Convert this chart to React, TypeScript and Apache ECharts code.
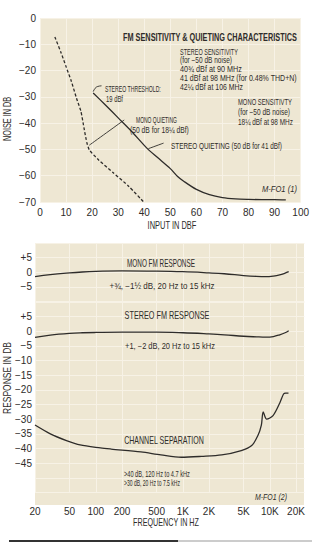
import React, { useEffect, useRef } from "react";
import * as echarts from "echarts";

// ---- Top chart: FM sensitivity & quieting (input dBf -> noise dB)
const monoQuietingInput = [5.7, 8, 10, 12, 14, 15.7, 17, 18, 19, 22.5, 28, 34, 39.6];
const monoQuietingNoise = [-7.2, -13, -18.5, -24, -30.5, -35.5, -42.5, -47.5, -50.3, -54, -58.8, -64, -69.8];
const stereoQuietingInput = [20.4, 25, 30, 35, 41, 45, 50, 52.8, 55, 60, 65, 70, 75, 80, 85, 90, 94.3];
const stereoQuietingNoise = [-28.5, -33, -38, -43, -49.5, -53, -57.3, -60.3, -62, -65.2, -67.2, -68.3, -68.8, -69, -69.1, -69.1, -69.2];
const thresholdLeader = [[23.6, -25.8], [21.6, -26.3], [20.4, -28.0]];
const monoQuietingLeader = [[32.3, -38.8], [18.9, -48.4]];
const stereoQuietingLeader = [[47.4, -47.6], [41.6, -49.7]];

// ---- Bottom chart: frequency responses & separation (Hz -> dB)
const responseFreq = [20, 30, 50, 70, 100, 200, 500, 1000, 2000, 3000, 5000, 7000, 9000, 11000, 13000, 15000, 16500];
const monoResponse = [-1.5, -0.8, -0.2, 0.1, 0.3, 0.5, 0.4, 0.2, -0.2, -0.5, -1.1, -1.4, -1.5, -1.3, -0.9, -0.3, 0.2];
const stereoResponse = [-2.1, -1.3, -0.7, -0.5, -0.4, -0.3, -0.3, -0.5, -0.9, -1.2, -1.7, -1.9, -2.0, -1.8, -1.2, -0.5, 0.2];
const separationFreq = [20, 30, 46, 66, 113, 150, 330, 560, 960, 1640, 2800, 4700, 6200, 7300, 8000, 8400, 9200, 10900, 13100, 14400, 15200, 16400];
const separationDb = [-32, -35, -37.3, -38.8, -39.8, -40.2, -41.2, -42.2, -43, -42.7, -42.2, -40.7, -39, -35.6, -32, -27.5, -30, -28.8, -24.3, -21.4, -21.1, -21.1];
const freqTicks = [20, 50, 100, 200, 500, 1000, 2000, 5000, 10000, 20000];

const INK = "#2e2c2a";
const BG = "#eee7d3";
const GRID = "#f7f2e6";
const FONT = '"Liberation Sans Narrow", "Liberation Sans", sans-serif';

const zip = (a: number[], b: number[]) => a.map((v, i) => [v, b[i]]);

let measureCtx: CanvasRenderingContext2D | null = null;
function measure(text: string, font: string) {
  if (!measureCtx) measureCtx = document.createElement("canvas").getContext("2d");
  measureCtx!.font = font;
  return measureCtx!.measureText(text).width;
}

type Ann = { t: string; x: number; y: number; w: number; s?: number; b?: boolean; i?: boolean; a?: "left" | "center"; r?: boolean };

function makeText(n: Ann) {
  const size = n.s ?? 8.5;
  const font = `${n.i ? "italic " : ""}${n.b ? "bold " : ""}${size}px ${FONT}`;
  const natural = measure(n.t, font);
  const sx = natural > 0 ? n.w / natural : 1;
  return {
    type: "text",
    x: n.x,
    y: n.y,
    scaleX: sx,
    rotation: n.r ? Math.PI / 2 : 0,
    silent: true,
    z: 50,
    style: {
      text: n.t,
      fill: INK,
      font,
      align: n.a ?? "left",
      verticalAlign: "middle",
      textAlign: n.a ?? "left",
      textVerticalAlign: "middle",
    },
  };
}

const annotations: Ann[] = [
  { t: "FM SENSITIVITY & QUIETING CHARACTERISTICS", x: 123, y: 38, w: 174, s: 10.5, b: true },
  { t: "STEREO SENSITIVITY", x: 180, y: 52, w: 58, s: 9 },
  { t: "(for −50 dB noise)", x: 180, y: 60.5, w: 52, s: 8.5 },
  { t: "40¾ dBf at 90 MHz", x: 180, y: 69.3, w: 62, s: 8.5 },
  { t: "41 dBf at 98 MHz (for 0.48% THD+N)", x: 180, y: 78.5, w: 117, s: 8.5 },
  { t: "42¼ dBf at 106 MHz", x: 180, y: 87.5, w: 63, s: 8.5 },
  { t: "STEREO THRESHOLD:", x: 105, y: 89, w: 56, s: 9 },
  { t: "19 dBf", x: 106, y: 99.3, w: 17, s: 8.5 },
  { t: "MONO SENSITIVTY", x: 238, y: 102.3, w: 54, s: 9 },
  { t: "(for −50 dB noise)", x: 238, y: 112, w: 52, s: 8.5 },
  { t: "18¼ dBf at 98 MHz", x: 238, y: 121.7, w: 55, s: 8.5 },
  { t: "MONO QUIETING", x: 136, y: 120, w: 41, s: 9 },
  { t: "(50 dB for 18¼ dBf)", x: 130, y: 130, w: 59, s: 8.5 },
  { t: "STEREO QUIETING (50 dB for 41 dBf)", x: 171, y: 146, w: 111, s: 9 },
  { t: "M-FO1 (1)", x: 262, y: 189.3, w: 35, s: 8.5, i: true },
  { t: "INPUT IN DBF", x: 172, y: 226, w: 49, s: 10.5, a: "center" },
  { t: "NOISE IN DB", x: 8, y: 119, w: 44, s: 10.5, a: "center", r: true },
  { t: "MONO FM RESPONSE", x: 161, y: 263.3, w: 68, s: 10, a: "center" },
  { t: "+¾, −1½ dB, 20 Hz to 15 kHz", x: 162, y: 286, w: 105, s: 8.5, a: "center" },
  { t: "STEREO FM RESPONSE", x: 167, y: 316, w: 85, s: 10, a: "center" },
  { t: "+1, −2 dB, 20 Hz to 15 kHz", x: 170, y: 346, w: 90, s: 8.5, a: "center" },
  { t: "CHANNEL SEPARATION", x: 164, y: 440, w: 80, s: 10.5, a: "center" },
  { t: ">40 dB, 120 Hz to 4.7 kHz", x: 124, y: 474, w: 66, s: 8.5 },
  { t: ">30 dB, 20 Hz to 7.5 kHz", x: 124, y: 482.5, w: 56, s: 8.5 },
  { t: "M-FO1 (2)", x: 255, y: 497, w: 32, s: 8.5, i: true },
  { t: "FREQUENCY IN HZ", x: 166, y: 523, w: 66, s: 10.5, a: "center" },
  { t: "RESPONSE IN DB", x: 7, y: 378, w: 72, s: 10.5, a: "center", r: true },
];

const minus = (v: number) => (v < 0 ? "−" + Math.abs(v) : String(v));

function buildOption() {
  const axisText = { color: INK, fontFamily: FONT, fontSize: 10 };
  const curve = { color: INK, width: 1.3 };
  return {
    animation: false,
    grid: [
      { left: 40, top: 18, width: 265, height: 184, show: true, backgroundColor: BG, borderWidth: 0 },
      { left: 35, top: 243, width: 269.4, height: 58.6 },
      { left: 35, top: 302, width: 269.4, height: 190.4 },
    ],
    xAxis: [
      {
        gridIndex: 0, type: "value", min: 0, max: 100, interval: 10,
        axisLine: { show: false }, axisTick: { show: false },
        axisLabel: { ...axisText, margin: 5 },
        splitLine: { lineStyle: { color: GRID, width: 1 } },
      },
      {
        gridIndex: 1, type: "log", min: 20, max: 25000,
        axisLine: { show: false }, axisTick: { show: false, customValues: freqTicks },
        axisLabel: { show: false },
        splitLine: { lineStyle: { color: GRID, width: 1 } },
      },
      {
        gridIndex: 2, type: "log", min: 20, max: 25000,
        axisLine: { show: false }, axisTick: { show: false, customValues: freqTicks },
        axisLabel: {
          ...axisText, margin: 14, customValues: freqTicks,
          formatter: (v: number) => (v >= 1000 ? v / 1000 + "K" : String(v)),
        },
        splitLine: { lineStyle: { color: GRID, width: 1 } },
      },
    ],
    yAxis: [
      {
        gridIndex: 0, type: "value", min: -70, max: 0, interval: 10,
        axisLine: { show: false }, axisTick: { show: false },
        axisLabel: { ...axisText, margin: 4, formatter: minus },
        splitLine: { lineStyle: { color: GRID, width: 1 } },
      },
      {
        gridIndex: 1, type: "value", min: -10, max: 10, interval: 5,
        axisLine: { show: false }, axisTick: { show: false },
        axisLabel: {
          ...axisText, margin: 3,
          formatter: (v: number) => (Math.abs(v) > 5 ? "" : v > 0 ? "+" + v : minus(v)),
        },
        splitLine: { lineStyle: { color: GRID, width: 1 } },
      },
      {
        gridIndex: 2, type: "value", min: -55, max: 10, interval: 5,
        axisLine: { show: false }, axisTick: { show: false },
        axisLabel: {
          ...axisText, margin: 3,
          formatter: (v: number) => (v > 5 || v < -45 ? "" : v > 0 ? "+" + v : minus(v)),
        },
        splitLine: { lineStyle: { color: GRID, width: 1 } },
      },
    ],
    series: [
      {
        type: "line", xAxisIndex: 0, yAxisIndex: 0, data: zip(monoQuietingInput, monoQuietingNoise),
        symbol: "none", smooth: 0.2, lineStyle: { ...curve, type: [3, 2] },
      },
      {
        type: "line", xAxisIndex: 0, yAxisIndex: 0, data: zip(stereoQuietingInput, stereoQuietingNoise),
        symbol: "none", smooth: 0.3, lineStyle: curve,
      },
      ...[thresholdLeader, monoQuietingLeader, stereoQuietingLeader].map((d) => ({
        type: "line", xAxisIndex: 0, yAxisIndex: 0, data: d, symbol: "none", smooth: 0.4,
        lineStyle: { color: INK, width: 0.9 },
      })),
      {
        type: "line", xAxisIndex: 1, yAxisIndex: 1, data: zip(responseFreq, monoResponse),
        symbol: "none", smooth: 0.4, lineStyle: curve,
      },
      {
        type: "line", xAxisIndex: 2, yAxisIndex: 2, data: zip(responseFreq, stereoResponse),
        symbol: "none", smooth: 0.4, lineStyle: curve,
      },
      {
        type: "line", xAxisIndex: 2, yAxisIndex: 2, data: zip(separationFreq, separationDb),
        symbol: "none", smooth: 0.3, lineStyle: curve,
      },
    ],
    graphic: [
      { type: "rect", z: -100, silent: true, shape: { x: 35, y: 243, width: 269, height: 262 }, style: { fill: BG } },
      { type: "line", silent: true, shape: { x1: 9, y1: 541, x2: 178, y2: 541 }, style: { stroke: "#333", lineWidth: 2.2 } },
      { type: "line", silent: true, shape: { x1: 178, y1: 541, x2: 312, y2: 541 }, style: { stroke: "#9a9a9a", lineWidth: 1.2 } },
      ...annotations.map(makeText),
    ],
  };
}

export default function App() {
  const ref = useRef<HTMLDivElement>(null);
  useEffect(() => {
    if (!ref.current) return;
    const chart = echarts.init(ref.current, null, { renderer: "svg" });
    chart.setOption(buildOption() as any);
    return () => chart.dispose();
  }, []);
  return <div ref={ref} style={{ position: "absolute", left: 0, top: 0, width: 312, height: 549, background: "#fff" }} />;
}
